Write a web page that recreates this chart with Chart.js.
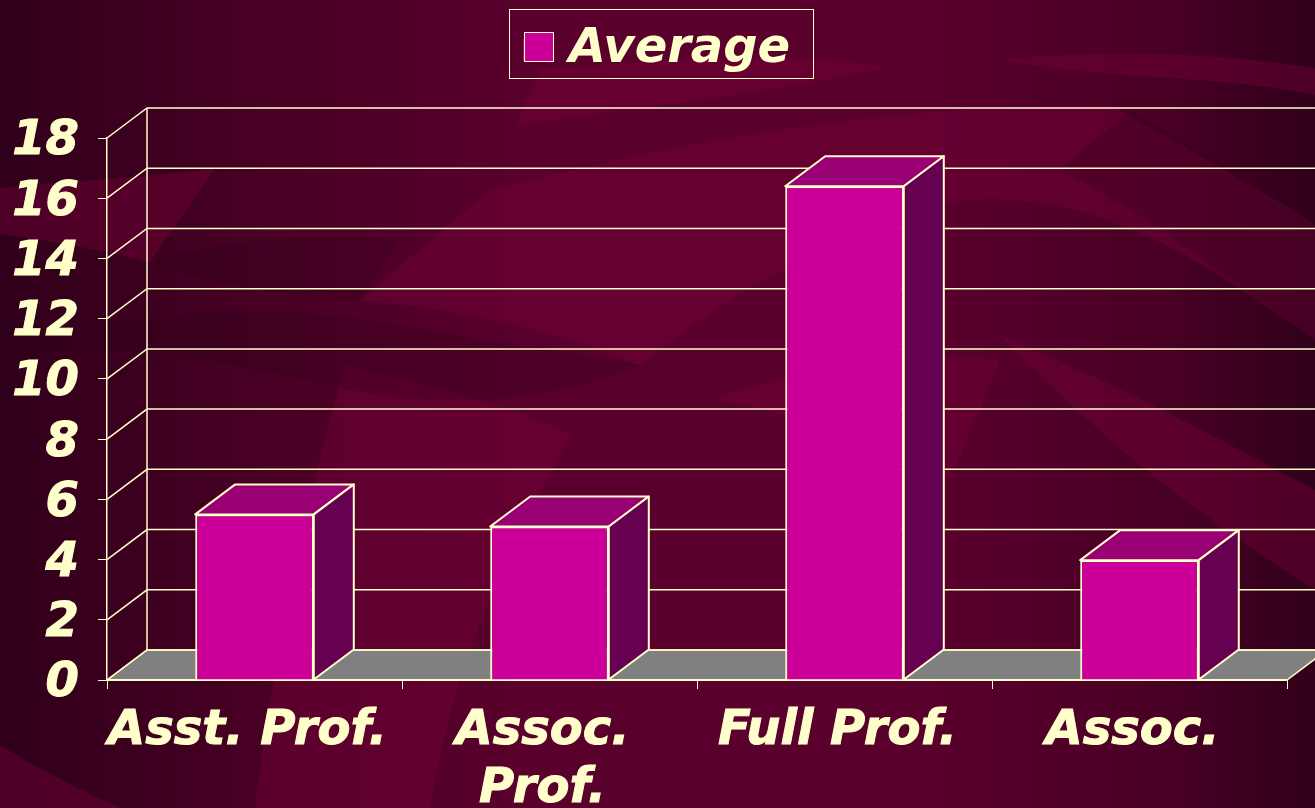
<!DOCTYPE html>
<html>
<head>
<meta charset="utf-8">
<title>Average</title>
<script src="https://cdn.jsdelivr.net/npm/chart.js@4"></script>
<style>
  html, body { margin: 0; padding: 0; width: 1315px; height: 808px; overflow: hidden; background: #33001a; }
  .backdrop { position: absolute; left: 0; top: 0; }
  #chart { position: absolute; left: 0; top: 0; }
</style>
</head>
<body>
<svg class="backdrop" width="1315" height="808" viewBox="0 0 1315 808">
  <defs>
    <linearGradient id="base" x1="0" x2="1" y1="0" y2="0">
      <stop offset="0" stop-color="#30001a"/>
      <stop offset="0.2" stop-color="#480024"/>
      <stop offset="0.4" stop-color="#5a002d"/>
      <stop offset="0.7" stop-color="#5a002d"/>
      <stop offset="0.88" stop-color="#4a0025"/>
      <stop offset="1" stop-color="#30001a"/>
    </linearGradient>
  </defs>
  <rect width="1315" height="808" fill="url(#base)"/>
  <!-- light swooshes -->
  <g fill="#740038" opacity="0.45">
    <path d="M0 188 C80 180 150 178 215 168 L150 262 C100 250 50 240 0 234 Z"/>
    <path d="M540 70 C650 60 800 50 885 68 C760 95 620 110 515 125 Z"/>
    <path d="M490 190 C650 150 850 105 1110 105 C1190 150 1280 200 1315 225 L1315 340 C1200 260 1100 190 960 200 C840 230 720 300 640 365 C560 330 460 310 360 300 Z"/>
    <path d="M345 366 C430 385 510 405 572 435 C500 560 450 680 430 808 L255 808 C275 640 310 490 345 366 Z"/>
    <path d="M0 745 C40 770 80 790 120 808 L0 808 Z"/>
    <path d="M1000 335 C1120 385 1240 450 1315 490 L1315 590 C1220 530 1110 450 1000 335 Z"/>
    <path d="M715 398 C800 370 900 350 1000 360 L950 480 C870 440 790 415 715 398 Z"/>
    <path d="M1000 60 C1120 48 1230 55 1315 68 L1315 95 C1220 75 1110 80 1000 60 Z"/>
  </g>
  <!-- dark swooshes -->
  <g fill="#2a0016" opacity="0.22">
    <path d="M0 355 C120 310 260 300 400 325 C480 340 570 350 640 365 C560 400 460 410 350 390 C220 360 100 340 0 355 Z"/>
    <path d="M1130 110 C1200 150 1270 195 1315 225 L1315 340 C1230 280 1150 215 1060 170 Z"/>
    <path d="M150 262 C200 245 300 230 400 240 L360 300 C280 295 210 285 150 262 Z"/>
  </g>
</svg>
<canvas id="chart" width="1315" height="808"></canvas>
<script>
const categories = ['Asst. Prof.', ['Assoc.', 'Prof.'], 'Full Prof.', 'Assoc.'];
const averages = [5.5, 5.1, 16.4, 3.98];
const seriesName = 'Average';

const cream = '#ffffcc';
const barFront = '#cc0099';
const barTop = '#990073';
const barSide = '#660050';
const floorGrey = '#808080';
const depthX = 40;
const depthY = -30;

function poly(ctx, points, fill) {
  ctx.beginPath();
  points.forEach((p, i) => (i ? ctx.lineTo(p[0], p[1]) : ctx.moveTo(p[0], p[1])));
  ctx.closePath();
  if (fill) {
    ctx.fillStyle = fill;
    ctx.fill();
  }
  ctx.stroke();
}

const box3d = {
  id: 'box3d',
  // room under the legend, so the plot starts lower down
  beforeLayout(chart) {
    const legend = chart.legend;
    const fit = legend.fit;
    legend.fit = function () {
      fit.call(this);
      this.height = 124;
    };
  },
  // legend sits centred on the page, not on the space left of the right padding
  afterLayout(chart) {
    chart.legend.left = 28;
  },
  // floor and back walls, below the scales
  beforeDraw(chart) {
    const { ctx, chartArea, scales } = chart;
    const { left, right, bottom } = chartArea;
    ctx.save();
    ctx.strokeStyle = cream;
    ctx.lineWidth = 1.5;
    poly(ctx, [
      [left, bottom],
      [left + depthX, bottom + depthY],
      [right + depthX, bottom + depthY],
      [right, bottom],
    ], floorGrey);
    scales.y.ticks.forEach((tick) => {
      const y = scales.y.getPixelForValue(tick.value);
      ctx.beginPath();
      ctx.moveTo(left, y);
      ctx.lineTo(left + depthX, y + depthY);
      ctx.lineTo(right + depthX, y + depthY);
      ctx.stroke();
    });
    ctx.beginPath();
    ctx.moveTo(left + depthX, chartArea.top + depthY);
    ctx.lineTo(left + depthX, bottom + depthY);
    ctx.stroke();

    // frame round the legend
    ctx.lineWidth = 1;
    ctx.strokeRect(509.5, 9.5, 304, 69);
    ctx.restore();
  },
  // top and side faces of each bar
  afterDatasetsDraw(chart) {
    const { ctx } = chart;
    ctx.save();
    ctx.strokeStyle = cream;
    ctx.lineWidth = 2;
    ctx.lineJoin = 'round';
    chart.getDatasetMeta(0).data.forEach((bar) => {
      const x0 = bar.x - bar.width / 2;
      const x1 = bar.x + bar.width / 2;
      poly(ctx, [
        [x0, bar.y],
        [x0 + depthX, bar.y + depthY],
        [x1 + depthX, bar.y + depthY],
        [x1, bar.y],
      ], barTop);
      poly(ctx, [
        [x1, bar.y],
        [x1 + depthX, bar.y + depthY],
        [x1 + depthX, bar.base + depthY],
        [x1, bar.base],
      ], barSide);
    });
    ctx.restore();
  },
  // legend swatch is wider than the gap chart.js leaves for it
  afterDraw(chart) {
    const { ctx } = chart;
    ctx.save();
    ctx.strokeStyle = cream;
    ctx.lineWidth = 1;
    ctx.fillStyle = barFront;
    ctx.fillRect(524, 32, 30, 30);
    ctx.strokeRect(524.5, 32.5, 29, 29);
    ctx.restore();
  },
};

const labelFont = {
  family: "'DejaVu Sans', Verdana, sans-serif",
  size: 48,
  weight: 'bold',
  style: 'italic',
  lineHeight: 1.2,
};

new Chart(document.getElementById('chart'), {
  type: 'bar',
  data: {
    labels: categories,
    datasets: [
      {
        label: seriesName,
        data: averages,
        backgroundColor: barFront,
        borderColor: cream,
        borderWidth: 2,
        barPercentage: 0.402,
        categoryPercentage: 1,
      },
    ],
  },
  options: {
    responsive: false,
    animation: false,
    layout: {
      padding: { top: 14, right: 28, left: 0, bottom: 0 },
    },
    plugins: {
      tooltip: { enabled: false },
      legend: {
        position: 'top',
        labels: {
          color: cream,
          font: labelFont,
          boxWidth: 20,
          boxHeight: 20,
          padding: 12,
        },
      },
    },
    scales: {
      x: {
        afterFit(scale) {
          scale.height = 128;
        },
        border: { color: cream, width: 2 },
        grid: {
          offset: true,
          drawOnChartArea: false,
          color: cream,
          tickLength: 9,
        },
        ticks: {
          color: cream,
          font: labelFont,
          textStrokeColor: cream,
          textStrokeWidth: 1,
          padding: 14,
          maxRotation: 0,
          autoSkip: false,
          labelOffset: -7,
        },
      },
      y: {
        min: 0,
        max: 18,
        afterFit(scale) {
          scale.width = 107;
        },
        border: { color: cream, width: 1.5 },
        grid: {
          drawOnChartArea: false,
          color: cream,
          tickLength: 9,
        },
        ticks: {
          color: cream,
          font: labelFont,
          textStrokeColor: cream,
          textStrokeWidth: 1,
          stepSize: 2,
          padding: 19,
          autoSkip: false,
          labelOffset: 4,
        },
      },
    },
  },
  plugins: [box3d],
});
</script>
</body>
</html>
